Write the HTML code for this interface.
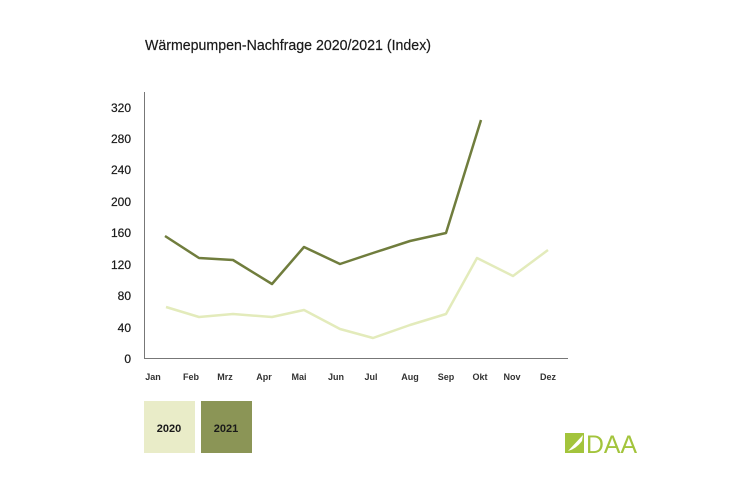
<!DOCTYPE html>
<html><head><meta charset="utf-8"><style>
html,body{margin:0;padding:0;background:#fff;}
svg{display:block;}
text{font-family:"Liberation Sans",sans-serif;}
</style></head><body>
<svg width="750" height="482" viewBox="0 0 750 482" xmlns="http://www.w3.org/2000/svg">
<rect width="750" height="482" fill="#fff"/>
<text x="145" y="50" font-size="15" fill="#1a1a1a" stroke="#1a1a1a" stroke-width="0.2" textLength="286" lengthAdjust="spacingAndGlyphs">Wärmepumpen-Nachfrage 2020/2021 (Index)</text>
<g font-size="12" fill="#1a1a1a" text-anchor="end" stroke="#1a1a1a" stroke-width="0.2">
<text x="131" y="363">0</text>
<text x="131" y="332">40</text>
<text x="131" y="300">80</text>
<text x="131" y="269">120</text>
<text x="131" y="237">160</text>
<text x="131" y="206">200</text>
<text x="131" y="174">240</text>
<text x="131" y="143">280</text>
<text x="131" y="112">320</text>
</g>
<path d="M144.5 92 V358.5 H568" fill="none" stroke="#777" stroke-width="1"/>
<g font-size="9" font-weight="bold" fill="#333" text-anchor="middle">
<text x="153" y="380">Jan</text><text x="191" y="380">Feb</text><text x="225" y="380">Mrz</text>
<text x="264" y="380">Apr</text><text x="299" y="380">Mai</text><text x="336" y="380">Jun</text>
<text x="371" y="380">Jul</text><text x="410" y="380">Aug</text><text x="446" y="380">Sep</text>
<text x="480" y="380">Okt</text><text x="512" y="380">Nov</text><text x="548" y="380">Dez</text>
</g>
<polyline fill="none" stroke="#e3ebbb" stroke-width="2.5" stroke-linejoin="round" points="166,307 199,317 233,314 272,317 304,310 340,329 373,338 410,325 446,314 477,258 513,276 548,250"/>
<polyline fill="none" stroke="#707d3d" stroke-width="2.5" stroke-linejoin="round" points="165,236 199,258 233,260 272,284 304,247 340,264 373,253 410,241 446,233 481,120"/>
<rect x="144" y="401" width="51" height="52" fill="#e9ecc8"/>
<rect x="201" y="401" width="51" height="52" fill="#8b9556"/>
<text x="169" y="432" font-size="11" font-weight="bold" fill="#1a1a1a" text-anchor="middle">2020</text>
<text x="226" y="432" font-size="11" font-weight="bold" fill="#1a1a1a" text-anchor="middle">2021</text>
<rect x="565" y="433" width="19" height="20" fill="#a3c43c"/>
<path d="M568 451 L583 435 L582 441 Q576 449 568 451 Z" fill="#fff"/>
<text x="586" y="453" font-size="25" fill="#a3c43c" textLength="51" lengthAdjust="spacingAndGlyphs">DAA</text>
</svg>
</body></html>
